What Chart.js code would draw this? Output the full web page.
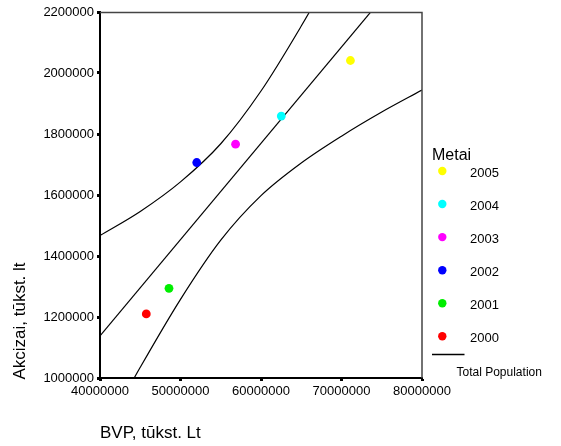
<!DOCTYPE html>
<html>
<head>
<meta charset="utf-8">
<script src="https://cdn.jsdelivr.net/npm/chart.js@4/dist/chart.umd.min.js"></script>
<style>
  html, body { margin: 0; padding: 0; background: #ffffff; }
  #wrap { position: relative; width: 561px; height: 446px; }
</style>
</head>
<body>
<div id="wrap"><canvas id="c" width="561" height="446"></canvas></div>
<script>
// Observations per year
const years   = ['2000', '2001', '2002', '2003', '2004', '2005'];
const bvp     = [45750000, 48570000, 52020000, 56840000, 62520000, 71110000];
const akcizai = [1210000, 1294000, 1706500, 1766800, 1858700, 2041000];
const yearColors = ['#ff0000', '#00ee00', '#0000ff', '#ff00ff', '#00ffff', '#ffff00'];

// Linear fit (end points) and 95% band for the mean, sampled along BVP
const fitX = [40000000, 80000000];
const fitY = [1138000, 2401000];
const bandX = [40000000, 45000000, 50000000, 55000000, 60000000, 65000000, 70000000, 75000000, 80000000];
const bandUpper = [1467000, 1546000, 1643000, 1768000, 1941000, 2154000, 2386000, 2626000, 2870000];
const bandLower = [798000, 1035000, 1258000, 1452000, 1598000, 1705000, 1793000, 1872000, 1944000];

// Axis ticks
const xTicks = [40000000, 50000000, 60000000, 70000000, 80000000];
const yTicks = [1000000, 1200000, 1400000, 1600000, 1800000, 2000000, 2200000];

const FONT = '"Liberation Sans", Arial, Helvetica, sans-serif';

const toPts = (xs, ys) => xs.map((x, i) => ({ x: x, y: ys[i] }));

const datasets = years.map((yr, i) => ({
  label: yr,
  data: [{ x: bvp[i], y: akcizai[i] }],
  backgroundColor: yearColors[i],
  borderColor: yearColors[i],
  borderWidth: 0,
  pointRadius: 4.4,
  pointHoverRadius: 4.4,
  showLine: false
}));

const lineStyle = {
  borderColor: '#000000',
  borderWidth: 1.2,
  pointRadius: 0,
  pointHoverRadius: 0,
  showLine: true,
  fill: false
};
datasets.push(Object.assign({ label: 'Total Population', data: toPts(fitX, fitY) }, lineStyle));
datasets.push(Object.assign({ label: 'upper', data: toPts(bandX, bandUpper), cubicInterpolationMode: 'monotone' }, lineStyle));
datasets.push(Object.assign({ label: 'lower', data: toPts(bandX, bandLower), cubicInterpolationMode: 'monotone' }, lineStyle));

// Frame, axis titles and legend
const decorations = {
  id: 'decorations',
  afterDraw(chart) {
    const ctx = chart.ctx;
    const a = chart.chartArea;
    ctx.save();

    // top and right edges of the plot frame
    ctx.strokeStyle = '#444444';
    ctx.lineWidth = 1.5;
    ctx.beginPath();
    ctx.moveTo(a.left, a.top + 0.5);
    ctx.lineTo(a.right, a.top + 0.5);
    ctx.lineTo(a.right, a.bottom);
    ctx.stroke();

    // axis titles
    ctx.fillStyle = '#000000';
    ctx.font = '17px ' + FONT;
    ctx.textAlign = 'left';
    ctx.textBaseline = 'middle';
    ctx.fillText('BVP, tūkst. Lt', 100, 433);

    ctx.save();
    ctx.translate(20, 321);
    ctx.rotate(-Math.PI / 2);
    ctx.textAlign = 'center';
    ctx.textBaseline = 'middle';
    ctx.fillText('Akcizai, tūkst. lt', 0, 0);
    ctx.restore();

    // legend
    ctx.font = '16px ' + FONT;
    ctx.textAlign = 'left';
    ctx.textBaseline = 'middle';
    ctx.fillText('Metai', 432, 156);

    ctx.font = '13px ' + FONT;
    for (let k = 0; k < years.length; k++) {
      const i = years.length - 1 - k;
      const y = 171 + 33.06 * k;
      ctx.fillStyle = yearColors[i];
      ctx.beginPath();
      ctx.arc(442.3, y, 4.2, 0, Math.PI * 2);
      ctx.fill();
      ctx.fillStyle = '#000000';
      ctx.fillText(years[i], 470, y + 2.2);
    }

    ctx.strokeStyle = '#000000';
    ctx.lineWidth = 1.3;
    ctx.beginPath();
    ctx.moveTo(432, 354.5);
    ctx.lineTo(464.5, 354.5);
    ctx.stroke();

    ctx.font = '12px ' + FONT;
    ctx.fillText('Total Population', 456.5, 372.5);

    ctx.restore();
  }
};

new Chart(document.getElementById('c'), {
  type: 'scatter',
  data: { datasets: datasets },
  options: {
    responsive: false,
    animation: false,
    devicePixelRatio: 1,
    layout: { padding: { top: 12, right: 139, bottom: 0, left: 0 } },
    plugins: {
      legend: { display: false },
      tooltip: { enabled: false }
    },
    scales: {
      x: {
        type: 'linear',
        min: 40000000,
        max: 80000000,
        afterFit(scale) { scale.height = 68; },
        afterBuildTicks(scale) { scale.ticks = xTicks.map(v => ({ value: v })); },
        grid: { drawOnChartArea: false, drawTicks: true, tickLength: 3, tickWidth: 3, tickColor: '#000000' },
        border: { display: true, color: '#000000', width: 2 },
        ticks: {
          color: '#000000',
          font: { family: FONT, size: 13 },
          padding: 3,
          maxRotation: 0,
          autoSkip: false,
          callback: v => String(v)
        }
      },
      y: {
        type: 'linear',
        min: 1000000,
        max: 2200000,
        afterFit(scale) { scale.width = 100; },
        afterBuildTicks(scale) { scale.ticks = yTicks.map(v => ({ value: v })); },
        grid: { drawOnChartArea: false, drawTicks: true, tickLength: 3, tickWidth: 3, tickColor: '#000000' },
        border: { display: true, color: '#000000', width: 2 },
        ticks: {
          color: '#000000',
          font: { family: FONT, size: 13 },
          padding: 3,
          autoSkip: false,
          callback: v => String(v)
        }
      }
    }
  },
  plugins: [decorations]
});
</script>
</body>
</html>
